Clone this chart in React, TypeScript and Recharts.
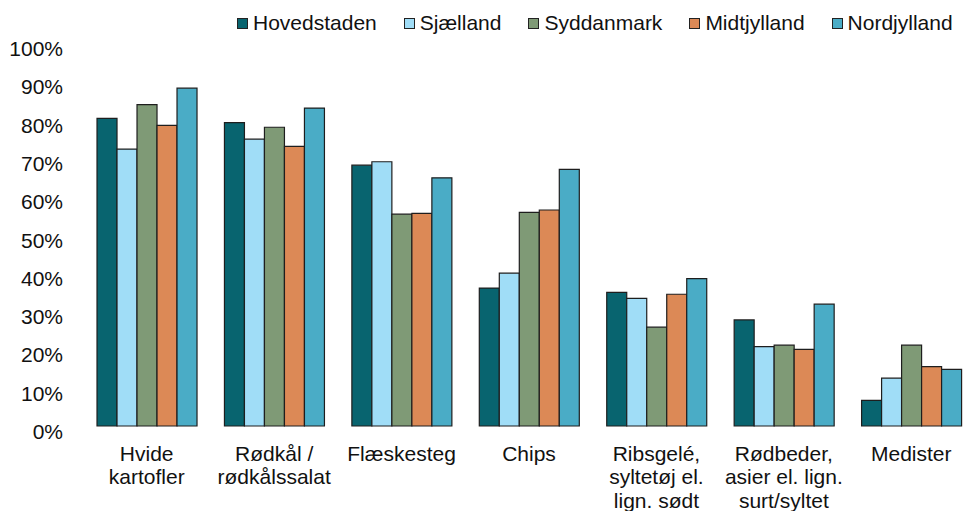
import { BarChart, Bar, XAxis, YAxis, Legend } from 'recharts';

const CATEGORIES = [
  'Hvide\nkartofler',
  'Rødkål /\nrødkålssalat',
  'Flæskesteg',
  'Chips',
  'Ribsgelé,\nsyltetøj el.\nlign. sødt',
  'Rødbeder,\nasier el. lign.\nsurt/syltet',
  'Medister',
];
const HOVEDSTADEN = [80.3, 79.2, 68.1, 36.0, 34.9, 27.7, 6.7];
const SJAELLAND = [72.3, 74.9, 69.0, 39.9, 33.3, 20.7, 12.5];
const SYDDANMARK = [83.9, 78.0, 55.3, 55.8, 25.8, 21.1, 21.1];
const MIDTJYLLAND = [78.5, 73.0, 55.5, 56.4, 34.4, 20.0, 15.5];
const NORDJYLLAND = [88.2, 83.0, 64.8, 67.0, 38.5, 31.8, 14.8];
const Y_TICKS = [0, 10, 20, 30, 40, 50, 60, 70, 80, 90, 100];

const SERIES = [
  { key: 'Hovedstaden', values: HOVEDSTADEN, color: '#08646f' },
  { key: 'Sjælland', values: SJAELLAND, color: '#a0ddf7' },
  { key: 'Syddanmark', values: SYDDANMARK, color: '#7f9a76' },
  { key: 'Midtjylland', values: MIDTJYLLAND, color: '#dc8956' },
  { key: 'Nordjylland', values: NORDJYLLAND, color: '#4aacc6' },
];

const FONT = "'Liberation Sans', Arial, Helvetica, sans-serif";
const TEXT = '#111';

const data = CATEGORIES.map((name, i) => {
  const row: Record<string, string | number> = { name };
  SERIES.forEach((s) => {
    row[s.key] = s.values[i];
  });
  return row;
});

function CategoryTick({ x, y, payload }: any) {
  const lines = String(payload.value).split('\n');
  return (
    <text x={x} y={y} textAnchor="middle" fontSize={21} fontFamily={FONT} fill={TEXT}>
      {lines.map((line, i) => (
        <tspan key={i} x={x} dy={i === 0 ? 35 : 23.3}>
          {line}
        </tspan>
      ))}
    </text>
  );
}

function PercentTick({ x, y, payload }: any) {
  return (
    <text x={x} y={y} dy={13} textAnchor="end" fontSize={21} fontFamily={FONT} fill={TEXT}>
      {`${payload.value}%`}
    </text>
  );
}

// legend keeps the series order (recharts sorts the payload by name)
function LegendBox() {
  return (
    <div style={{ display: 'flex', alignItems: 'center', fontFamily: FONT, fontSize: 21, color: TEXT }}>
      {SERIES.map((s) => (
        <div key={s.key} style={{ display: 'flex', alignItems: 'center', marginRight: 27, lineHeight: '24px' }}>
          <span
            style={{
              width: 9,
              height: 9,
              background: s.color,
              border: '1px solid #222',
              marginRight: 5,
              display: 'inline-block',
            }}
          />
          <span>{s.key}</span>
        </div>
      ))}
    </div>
  );
}

export default function App() {
  return (
    <div
      style={{
        position: 'absolute',
        top: 0,
        left: 0,
        width: 966,
        height: 511,
        overflow: 'hidden',
        background: '#fff',
      }}
    >
      <BarChart
        width={1000}
        height={511}
        data={data}
        margin={{ top: 43, right: 25, left: 13, bottom: 5 }}
        barCategoryGap="11%"
        barGap={0}
      >
        <XAxis
          dataKey="name"
          interval={0}
          axisLine={false}
          tickLine={false}
          tickSize={0}
          tickMargin={0}
          height={80}
          tick={<CategoryTick />}
        />
        <YAxis
          domain={[0, 100]}
          ticks={Y_TICKS}
          interval={0}
          axisLine={false}
          tickLine={false}
          tickSize={0}
          tickMargin={20}
          width={70}
          tick={<PercentTick />}
        />
        <Legend
          verticalAlign="middle"
          layout="horizontal"
          content={<LegendBox />}
          wrapperStyle={{ top: 11, left: 237, width: 760 }}
        />
        {SERIES.map((s) => (
          <Bar
            key={s.key}
            dataKey={s.key}
            fill={s.color}
            stroke="#1e1e1e"
            strokeWidth={1.2}
            isAnimationActive={false}
          />
        ))}
      </BarChart>
    </div>
  );
}
